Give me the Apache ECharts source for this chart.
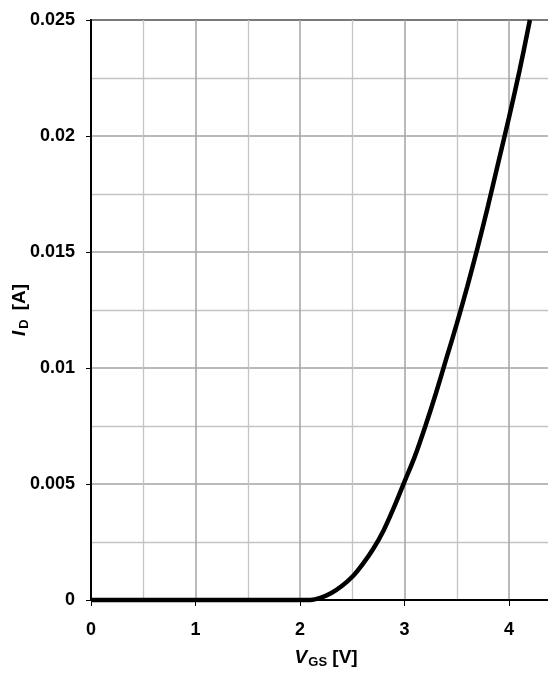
<!DOCTYPE html>
<html>
<head>
<meta charset="utf-8">
<script src="https://cdn.jsdelivr.net/npm/echarts@6/dist/echarts.min.js"></script>
<style>
html,body{margin:0;padding:0;background:#fff;}
#chart{width:548px;height:679px;}
</style>
</head>
<body>
<div id="chart"></div>
<script>
// Transfer characteristic
var vgs  = [0, 1.0, 2.0, 2.1, 2.2, 2.3, 2.4, 2.5, 2.6, 2.7, 2.8, 2.9, 3.0, 3.1, 3.2, 3.3, 3.4, 3.5, 3.6, 3.7, 3.8, 3.9, 4.0, 4.1, 4.2];
var idA  = [0, 0, 0, 0, 0.0001, 0.0003, 0.0006, 0.001, 0.00155, 0.0022, 0.003, 0.004, 0.0051, 0.0062, 0.0075, 0.0089, 0.0104, 0.0119, 0.0135, 0.0152, 0.0170, 0.0189, 0.0208, 0.0228, 0.025];
var xTickLabels = ['0', '1', '2', '3', '4'];
var yTickLabels = ['0', '0.005', '0.01', '0.015', '0.02', '0.025'];

var pts = vgs.map(function (v, i) { return [v, idA[i]]; });
var FONT = '"Liberation Sans", Arial, sans-serif';

var chart = echarts.init(document.getElementById('chart'), null, {renderer: 'canvas'});
chart.setOption({
  animation: false,
  backgroundColor: '#fff',
  grid: {left: 91, top: 20, bottom: 79, width: 470.25, outerBoundsMode: 'none', containLabel: false,
         show: true, borderColor: '#000', borderWidth: 2, backgroundColor: 'transparent'},
  xAxis: {
    type: 'value', min: 0, max: 4.5, interval: 1,
    axisLine: {show: true, lineStyle: {color: '#000', width: 2}},
    axisTick: {show: true, length: 6, lineStyle: {color: '#000', width: 1}},
    minorTick: {show: false, splitNumber: 2},
    splitLine: {show: true, lineStyle: {color: '#a3a3a3', width: 1.5}},
    minorSplitLine: {show: true, lineStyle: {color: '#c4c4c4', width: 1.3}},
    axisLabel: {
      color: '#000', fontFamily: FONT, fontWeight: 'bold', fontSize: 18, margin: 21,
      showMaxLabel: false,
      formatter: function (v) { var i = Math.round(v); return xTickLabels[i] !== undefined ? xTickLabels[i] : ''; }
    },
    name: '{i|V}{s|GS}{n| [V]}',
    nameLocation: 'middle', nameGap: 48, nameMoveOverlap: false,
    nameTextStyle: {
      rich: {
        i: {fontFamily: FONT, fontWeight: 'bold', fontStyle: 'italic', fontSize: 19, color: '#000', verticalAlign: 'bottom'},
        s: {fontFamily: FONT, fontWeight: 'bold', fontSize: 13, color: '#000', verticalAlign: 'bottom', padding: [0, 0, -2, 1]},
        n: {fontFamily: FONT, fontWeight: 'bold', fontSize: 19, color: '#000', verticalAlign: 'bottom'}
      }
    }
  },
  yAxis: {
    type: 'value', min: 0, max: 0.025, interval: 0.005,
    axisLine: {show: true, lineStyle: {color: '#000', width: 2}},
    axisTick: {show: true, length: 5, lineStyle: {color: '#000', width: 1}},
    minorTick: {show: false, splitNumber: 2},
    splitLine: {show: true, lineStyle: {color: '#a3a3a3', width: 1.5}},
    minorSplitLine: {show: true, lineStyle: {color: '#c4c4c4', width: 1.3}},
    axisLabel: {
      color: '#000', fontFamily: FONT, fontWeight: 'bold', fontSize: 18, margin: 16,
      formatter: function (v) { var i = Math.round(v / 0.005); return yTickLabels[i] !== undefined ? yTickLabels[i] : ''; }
    },
    name: '{i|I}{s|D}{n|[A]}',
    nameLocation: 'middle', nameGap: 62, nameRotate: 90, nameMoveOverlap: false,
    nameTextStyle: {
      rich: {
        i: {fontFamily: FONT, fontWeight: 'bold', fontStyle: 'italic', fontSize: 19, color: '#000', verticalAlign: 'bottom'},
        s: {fontFamily: FONT, fontWeight: 'bold', fontSize: 13, color: '#000', verticalAlign: 'bottom', padding: [0, 0, -2, 2]},
        n: {fontFamily: FONT, fontWeight: 'bold', fontSize: 19, color: '#000', verticalAlign: 'bottom', padding: [0, 0, 0, 9]}
      }
    }
  },
  series: [{
    type: 'line',
    data: pts,
    smooth: 0.3,
    showSymbol: false,
    clip: false,
    lineStyle: {color: '#000', width: 4.5},
    z: 5
  }]
});
</script>
</body>
</html>
